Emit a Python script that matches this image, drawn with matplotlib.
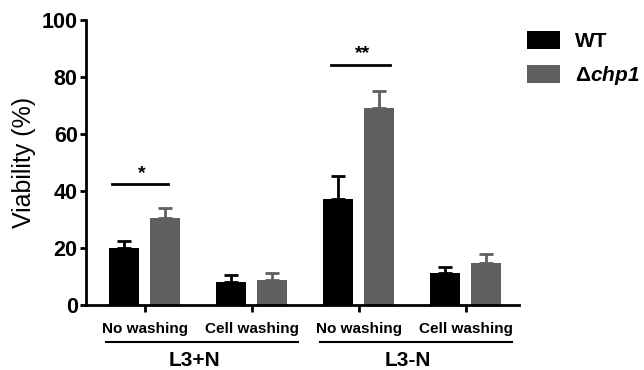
import numpy as np
import matplotlib

matplotlib.use("Agg")
import matplotlib.pyplot as plt
from matplotlib.patches import Patch
from matplotlib.transforms import blended_transform_factory

plt.rcParams["font.family"] = ["Liberation Sans", "DejaVu Sans"]
plt.rcParams["mathtext.fontset"] = "custom"
plt.rcParams["mathtext.it"] = "Liberation Sans:bold:italic"
plt.rcParams["mathtext.rm"] = "Liberation Sans:bold:italic"

# ---- data ----
TREATMENTS = ["No washing", "Cell washing", "No washing", "Cell washing"]
CONDITIONS = ["L3+N", "L3-N"]
WT_MEAN = [20.1, 8.2, 37.2, 11.3]
WT_ERR = [2.5, 2.3, 8.1, 2.1]
CHP1_MEAN = [30.6, 8.8, 69.2, 14.8]
CHP1_ERR = [3.3, 2.3, 6.0, 3.1]
# significance brackets: (x0, x1, y, label)
SIG = [(-0.31, 0.22, 42.3, "*"), (1.74, 2.29, 84.2, "**")]

WT_COLOR = "black"
CHP1_COLOR = "#5f5f5f"

fig = plt.figure(figsize=(6.44, 3.70), dpi=100)
ax = fig.add_axes([0.1335, 0.1757, 0.6725, 0.7703])

x = np.arange(len(TREATMENTS))
off, w = 0.19, 0.28
ax.bar(x - off, WT_MEAN, w, color=WT_COLOR, zorder=2)
ax.errorbar(x - off, WT_MEAN, yerr=[np.zeros(4), WT_ERR], fmt="none",
            ecolor=WT_COLOR, elinewidth=2, capsize=5, capthick=2, zorder=1)
ax.bar(x + off, CHP1_MEAN, w, color=CHP1_COLOR, zorder=2)
ax.errorbar(x + off, CHP1_MEAN, yerr=[np.zeros(4), CHP1_ERR], fmt="none",
            ecolor=CHP1_COLOR, elinewidth=2, capsize=5, capthick=2, zorder=1)

for x0, x1, y, lab in SIG:
    ax.plot([x0, x1], [y, y], color="black", lw=2)
    ax.text((x0 + x1) / 2 + 0.02, y + 1.0, lab, ha="center", va="bottom",
            fontsize=14, fontweight="bold")

ax.set_xlim(-0.55, 3.5)
ax.set_ylim(0, 100)
ax.set_yticks([0, 20, 40, 60, 80, 100])
ax.set_ylabel("Viability (%)", fontsize=18, labelpad=4)
ax.set_xticks(x)
ax.set_xticklabels(TREATMENTS, fontsize=11, fontweight="bold")
for lab in ax.get_yticklabels():
    lab.set_fontweight("bold")
ax.tick_params(axis="y", labelsize=15.5, width=2, length=4.5, pad=1.5)
ax.tick_params(axis="x", width=2, length=5, pad=7)
for s in ["top", "right"]:
    ax.spines[s].set_visible(False)
for s in ["left", "bottom"]:
    ax.spines[s].set_linewidth(2)

# condition group labels under the axis
tr = blended_transform_factory(ax.transData, ax.transAxes)
for i, cond in enumerate(CONDITIONS):
    g = 2 * i
    ax.plot([g - 0.36, g + 1.43], [-0.129, -0.129], color="black", lw=1.5,
            transform=tr, clip_on=False)
    ax.text(g + 0.46, -0.195, cond, transform=tr, ha="center", va="center",
            fontsize=15, fontweight="bold")

handles = [Patch(facecolor=WT_COLOR, label="WT"),
           Patch(facecolor=CHP1_COLOR, label="Δ$chp1$")]
leg = fig.legend(handles=handles, loc="upper left", bbox_to_anchor=(0.818, 0.917),
                 frameon=False, handlelength=1.6, handleheight=0.95,
                 labelspacing=0.65, handletextpad=0.7, borderpad=0,
                 borderaxespad=0, prop={"weight": "bold", "size": 15})

fig.savefig("out.png", dpi=100)
